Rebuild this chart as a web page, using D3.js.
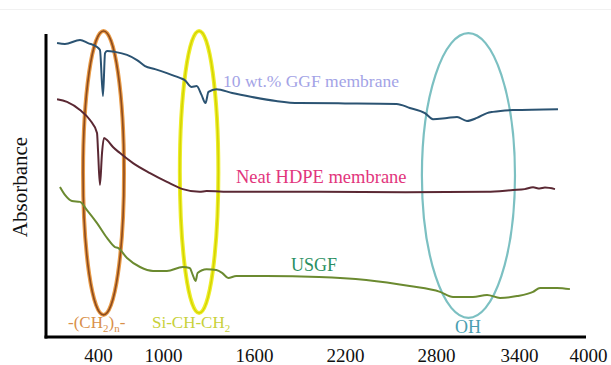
<!DOCTYPE html>
<html>
<head>
<meta charset="utf-8">
<script src="https://cdn.jsdelivr.net/npm/d3@7"></script>
<style>
  html, body { margin: 0; padding: 0; background: #fff; }
  svg { display: block; font-family: "Liberation Serif", "Times New Roman", serif; }
</style>
</head>
<body>
<svg id="chart" width="611" height="365"></svg>
<script>
// Wavenumber tick labels along the bottom axis
const tickValues = [400, 1000, 1600, 2200, 2800, 3400, 4000];

// FTIR spectra: [wavenumber, absorbance (a.u.)]
const ggfMembrane = [
  [22, 97.0], [95, 96.7], [234, 98.0], [308, 97.0], [391, 95.7], [418, 94.7],
  [446, 79.5], [465, 93.7], [483, 94.4], [557, 94.1], [668, 93.1], [760, 91.4],
  [834, 89.4], [926, 88.4], [1026, 87.1], [1111, 85.5], [1143, 84.8], [1189, 82.5],
  [1222, 82.8], [1254, 79.9], [1280, 77.2], [1300, 80.9], [1352, 81.8], [1456, 80.5],
  [1587, 79.2], [1745, 77.9], [1897, 77.2], [2200, 77.1], [2540, 76.9], [2627, 75.6],
  [2727, 73.9], [2780, 71.9], [2880, 72.3], [2952, 72.6], [3024, 71.3], [3096, 72.3],
  [3169, 73.9], [3212, 74.3], [3357, 74.9], [3739, 75.2]
];
const hdpeMembrane = [
  [22, 78.5], [114, 77.6], [234, 74.9], [326, 71.6], [391, 67.3], [400, 61.7],
  [418, 50.2], [437, 60.7], [455, 65.7], [483, 65.0], [538, 62.7], [603, 60.7],
  [723, 57.4], [880, 54.1], [1026, 51.2], [1130, 48.8], [1241, 47.9], [1287, 48.2],
  [1456, 47.9], [2028, 47.9], [2600, 47.8], [3169, 47.9], [3357, 48.5], [3450, 48.8],
  [3522, 49.4], [3580, 49.0], [3626, 49.3], [3713, 48.8]
];
const usgf = [
  [49, 49.5], [95, 46.9], [160, 44.9], [234, 44.6], [298, 41.9], [391, 37.6],
  [483, 32.7], [557, 29.7], [585, 29.4], [668, 26.1], [788, 23.1], [908, 21.8],
  [1026, 21.8], [1130, 23.1], [1176, 22.8], [1196, 20.5], [1215, 18.5], [1228, 21.1],
  [1287, 22.4], [1352, 22.1], [1391, 21.1], [1430, 19.5], [1483, 20.1], [1679, 20.1],
  [2028, 19.8], [2340, 18.8], [2627, 16.8], [2829, 14.9], [2923, 13.2], [3067, 13.2],
  [3169, 13.9], [3263, 12.9], [3386, 13.5], [3522, 14.9], [3583, 16.2], [3730, 16.2],
  [3843, 15.8]
];

// Highlighted absorption bands: wavenumber span and absorbance span of each ellipse
const bandNames = ["-(CH2)n-", "Si-CH-CH2", "OH"];
const bandFrom  = [262, 1111, 2707];
const bandTo    = [640, 1365, 3371];
const bandTop   = [101.0, 101.0, 100.3];
const bandBottom = [7.3, 7.9, 6.3];

const svg = d3.select("#chart");

// Frame
const frameLeft = 46, frameRight = 586, frameTop = 34, frameBottom = 337;

const x = d3.scaleLinear()
  .domain(tickValues)
  .range([98, 163, 254, 345, 436, 519, 588]);
const y = d3.scaleLinear().domain([0, 100]).range([frameBottom, frameTop]);

// faint top rule
svg.append("line")
  .attr("x1", 0).attr("x2", 611).attr("y1", 9.5).attr("y2", 9.5)
  .attr("stroke", "#f1f1f1").attr("stroke-width", 1);

// Band ellipses
const bandStyles = [
  [{ c: "#e99a45", w: 4 }, { c: "#8d4b1e", w: 1.6 }],
  [{ c: "#eded2a", w: 4 }, { c: "#d4d400", w: 1.5 }],
  [{ c: "#7cc0c2", w: 2.2 }]
];
bandNames.forEach((name, i) => {
  const cx = (x(bandFrom[i]) + x(bandTo[i])) / 2;
  const rx = (x(bandTo[i]) - x(bandFrom[i])) / 2;
  const cy = (y(bandTop[i]) + y(bandBottom[i])) / 2;
  const ry = (y(bandBottom[i]) - y(bandTop[i])) / 2;
  bandStyles[i].forEach(s => {
    svg.append("ellipse")
      .attr("cx", cx).attr("cy", cy).attr("rx", rx).attr("ry", ry)
      .attr("fill", "none").attr("stroke", s.c).attr("stroke-width", s.w);
  });
});

// Spectra
const line = d3.line()
  .x(d => x(d[0]))
  .y(d => y(d[1]))
  .curve(d3.curveMonotoneX);

const series = [
  { data: ggfMembrane, color: "#2b5372" },
  { data: hdpeMembrane, color: "#5a2833" },
  { data: usgf, color: "#6b8a30" }
];
series.forEach(s => {
  svg.append("path")
    .datum(s.data)
    .attr("d", line)
    .attr("fill", "none")
    .attr("stroke", s.color)
    .attr("stroke-width", 2)
    .attr("stroke-linejoin", "round");
});

// Axis frame lines
svg.append("line")
  .attr("x1", frameLeft).attr("x2", frameLeft).attr("y1", frameTop).attr("y2", frameBottom + 1.5)
  .attr("stroke", "#000").attr("stroke-width", 3);
svg.append("line")
  .attr("x1", frameLeft - 1.5).attr("x2", frameRight).attr("y1", frameBottom).attr("y2", frameBottom)
  .attr("stroke", "#000").attr("stroke-width", 3);

// Bottom axis tick labels
const xAxis = d3.axisBottom(x).tickValues(tickValues).tickSize(0).tickPadding(0)
  .tickFormat(d3.format("d"));
const gx = svg.append("g").attr("transform", `translate(0,${frameBottom})`).call(xAxis);
gx.select(".domain").remove();
gx.selectAll("text")
  .attr("dy", null)
  .attr("y", 24.5)
  .attr("fill", "#111")
  .style("font-family", "'Liberation Serif', 'Times New Roman', serif")
  .style("font-size", "19px");

// Y axis title
svg.append("text")
  .attr("transform", "translate(27,187) rotate(-90)")
  .attr("text-anchor", "middle")
  .attr("fill", "#111")
  .style("font-size", "21px")
  .text("Absorbance");

// Series labels
svg.append("text").attr("x", 223).attr("y", 87)
  .attr("fill", "#a3a3e6").style("font-size", "17.5px")
  .text("10 wt.% GGF membrane");
svg.append("text").attr("x", 236).attr("y", 183)
  .attr("fill", "#e2357c").style("font-size", "18.5px")
  .text("Neat HDPE membrane");
svg.append("text").attr("x", 291).attr("y", 271)
  .attr("fill", "#2a8f62").style("font-size", "18px")
  .text("USGF");

// Band labels
const ch2n = svg.append("text").attr("x", 68).attr("y", 328)
  .attr("fill", "#d9904a").style("font-size", "17px");
ch2n.append("tspan").text("-(CH");
ch2n.append("tspan").attr("dy", 4).style("font-size", "11px").text("2");
ch2n.append("tspan").attr("dy", -4).text(")");
ch2n.append("tspan").attr("dy", 4).style("font-size", "11px").text("n");
ch2n.append("tspan").attr("dy", -4).text("-");

const sich = svg.append("text").attr("x", 152).attr("y", 328)
  .attr("fill", "#c8d13a").style("font-size", "17px");
sich.append("tspan").text("Si-CH-CH");
sich.append("tspan").attr("dy", 4).style("font-size", "11px").text("2");

svg.append("text").attr("x", 468).attr("y", 333)
  .attr("text-anchor", "middle")
  .attr("fill", "#4a9eb0").style("font-size", "18px")
  .text("OH");
</script>
</body>
</html>
